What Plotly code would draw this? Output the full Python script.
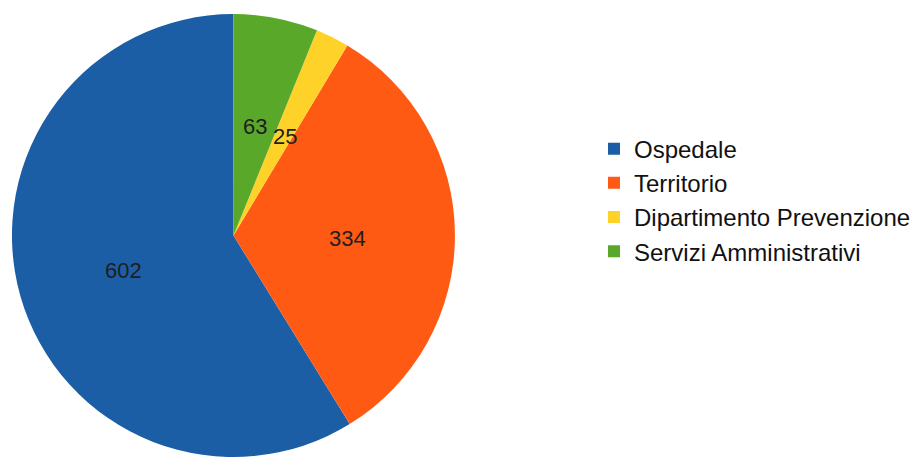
import math
import plotly.graph_objects as go

labels = ["Ospedale", "Territorio", "Dipartimento Prevenzione", "Servizi Amministrativi"]
values = [602, 334, 25, 63]
colors = ["#1b5ea6", "#ff5a14", "#ffd22a", "#5aa82a"]

W, H = 916, 457
MT, MB = 14, 0
PIE_DOMAIN_X = [0, 470 / W]
total = sum(values)

# first slice starts at 12 o'clock and runs counterclockwise
start_rotation = -360 * values[0] / total

fig = go.Figure(go.Pie(
    labels=labels,
    values=values,
    sort=False,
    direction="counterclockwise",
    rotation=start_rotation,
    marker=dict(colors=colors, line=dict(width=0)),
    textinfo="none",
    domain=dict(x=PIE_DOMAIN_X, y=[0, 1]),
    hoverinfo="label+value",
))

# value labels at about half radius on each slice bisector (LibreOffice style)
plot_h = H - MT - MB
cx_px = (PIE_DOMAIN_X[0] + PIE_DOMAIN_X[1]) / 2 * W
radius = min((PIE_DOMAIN_X[1] - PIE_DOMAIN_X[0]) * W, plot_h) / 2
LABEL_R = 0.52
cum = 0.0
annotations = []
for v in values:
    mid = -(cum + v / 2) / total * 2 * math.pi  # clockwise-from-top angle (negative = ccw)
    cum += v
    dx = LABEL_R * radius * math.sin(mid)
    dy = LABEL_R * radius * math.cos(mid)
    annotations.append(dict(
        x=(cx_px + dx) / W, y=0.5 + dy / plot_h,
        xref="paper", yref="paper",
        xanchor="center", yanchor="middle", yshift=-4,
        text=str(v), showarrow=False,
        font=dict(family="Liberation Sans, Arial, sans-serif", size=22, color="#1e1e1e"),
    ))

fig.update_layout(
    width=W,
    height=H,
    margin=dict(l=0, r=0, t=MT, b=MB),
    paper_bgcolor="white",
    plot_bgcolor="white",
    showlegend=True,
    legend=dict(
        x=598 / W,
        xanchor="left",
        y=0.58,
        yanchor="middle",
        font=dict(family="Liberation Sans, Arial, sans-serif", size=24, color="#111111"),
        traceorder="normal",
    ),
    annotations=annotations,
)

fig.write_html("out.html")
